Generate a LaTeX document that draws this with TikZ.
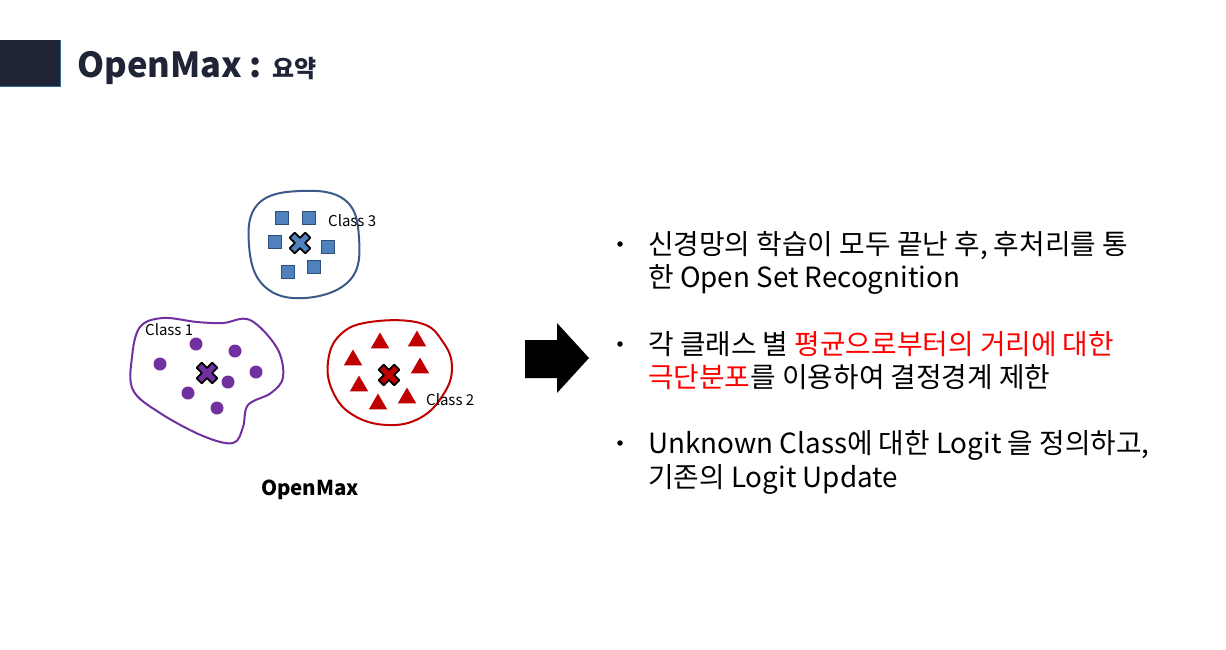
\documentclass[tikz,border=0pt]{standalone}
\usepackage{fontspec}
\setmainfont{Noto Sans CJK KR}
\usetikzlibrary{positioning,shapes.geometric}
\definecolor{navy}{HTML}{1F2537}
\definecolor{navyedge}{HTML}{2E6DA4}
\definecolor{blobblue}{HTML}{3B5A8A}
\definecolor{sqfill}{HTML}{4F81BD}
\definecolor{sqedge}{HTML}{2F4F7A}
\definecolor{purp}{HTML}{7030A0}
\definecolor{redc}{HTML}{C00000}
\definecolor{hot}{HTML}{FF0000}
\tikzset{
  blob/.style={line width=2pt},
  sq/.style={draw=sqedge, fill=sqfill, line width=1pt, minimum size=13pt, inner sep=0pt},
  dot/.style={circle, fill=purp, minimum size=13pt, inner sep=0pt},
  tri/.style={regular polygon, regular polygon sides=3, fill=redc, minimum size=21pt, inner sep=0pt},
  clabel/.style={font=\fontsize{15}{17}\selectfont, inner sep=0pt},
  txt/.style={anchor=base west, inner sep=0pt, font=\fontsize{27.8}{33}\selectfont},
  bul/.style={circle, fill=black, minimum size=5.5pt, inner sep=0pt}
}
\newcommand\meanmark[3]{%
  \begin{scope}[shift={(#1,#2)},rotate=45]
    \filldraw[fill=#3, draw=black, line width=1.8pt, line join=round]
      (3.6,11) -- (3.6,3.6) -- (11,3.6) -- (11,-3.6) -- (3.6,-3.6) -- (3.6,-11)
      -- (-3.6,-11) -- (-3.6,-3.6) -- (-11,-3.6) -- (-11,3.6) -- (-3.6,3.6) -- (-3.6,11) -- cycle;
  \end{scope}}
\begin{document}
\begin{tikzpicture}[x=1pt, y=-1pt]
  \useasboundingbox (0,0) rectangle (1226,649);
  % title
  \fill[navy] (0,40) rectangle (60,86);
  \draw[navyedge, line width=0.8pt] (60,40) -- (60,86) -- (0,86);
  \node[anchor=base west, inner sep=0pt, text=navy, font=\fontsize{34.5}{40}\bfseries] (title) at (77,77)
    {OpenMax : {\fontsize{24}{28}\selectfont 요약}};

  % class 3
  \draw[blob, blobblue] plot[smooth cycle, tension=0.7] coordinates
    {(258,204) (300,191) (345,200) (359,238) (350,280) (305,298) (264,286) (249,245)};
  \node[sq] (s1) at (282,218) {};
  \node[sq] (s2) at (309,218) {};
  \node[sq] (s3) at (275,242) {};
  \node[sq] (s4) at (328,247) {};
  \node[sq] (s5) at (288,272) {};
  \node[sq] (s6) at (314,267) {};
  \meanmark{300}{243}{sqfill}
  \node[clabel, anchor=west] (c3) at (328,221) {Class 3};

  % class 1
  \draw[blob, purp] plot[smooth cycle, tension=0.6] coordinates
    {(140,327) (163,318) (197,322) (223,323) (250,320) (277,348) (283,377) (271,393)
     (248,405) (243,427) (233,443) (203,436) (160,413) (133,390) (132,357)};
  \node[dot] (p1) at (160,364) {};
  \node[dot] (p2) at (196,344) {};
  \node[dot] (p3) at (235,351) {};
  \node[dot] (p4) at (256,372) {};
  \node[dot] (p5) at (228,382) {};
  \node[dot] (p6) at (188,393) {};
  \node[dot] (p7) at (217,408) {};
  \meanmark{207}{373}{purp}
  \node[clabel, anchor=west] (c1) at (145,330) {Class 1};

  % class 2
  \draw[blob, redc] plot[smooth cycle, tension=0.7] coordinates
    {(370,322) (420,323) (443,342) (452,368) (443,395) (420,418) (387,425)
     (353,415) (333,392) (328,362) (340,335)};
  \node[tri] (t1) at (380,343) {};
  \node[tri] (t2) at (417,341) {};
  \node[tri] (t3) at (353,360) {};
  \node[tri] (t4) at (420,368) {};
  \node[tri] (t5) at (359,386) {};
  \node[tri] (t6) at (378,404) {};
  \node[tri] (t7) at (407,398) {};
  \meanmark{389}{375}{redc}
  \node[clabel, anchor=west] (c2) at (426,400) {Class 2};

  \node[inner sep=0pt, font=\fontsize{20.5}{24}\bfseries] (om) at (310,490) {OpenMax};

  % arrow
  \fill[black] (525,340) -- (557,340) -- (557,323) -- (589,358) -- (557,393) -- (557,378) -- (525,378) -- cycle;

  % bullets
  \node[bul] (b1) at (620,244) {};
  \node[txt] (l1) at (648,254) {신경망의 학습이 모두 끝난 후, 후처리를 통};
  \node[txt] (l2) at (648,287) {한 Open Set Recognition};
  \node[bul] (b2) at (620,344) {};
  \node[txt] (l3) at (648,354) {각 클래스 별 \textcolor{hot}{평균으로부터의 거리에 대한}};
  \node[txt] (l4) at (648,387) {\textcolor{hot}{극단분포}를 이용하여 결정경계 제한};
  \node[bul] (b3) at (620,443) {};
  \node[txt] (l5) at (648,453) {Unknown Class에 대한 Logit 을 정의하고,};
  \node[txt] (l6) at (648,487) {기존의 Logit Update};
\end{tikzpicture}
\end{document}
